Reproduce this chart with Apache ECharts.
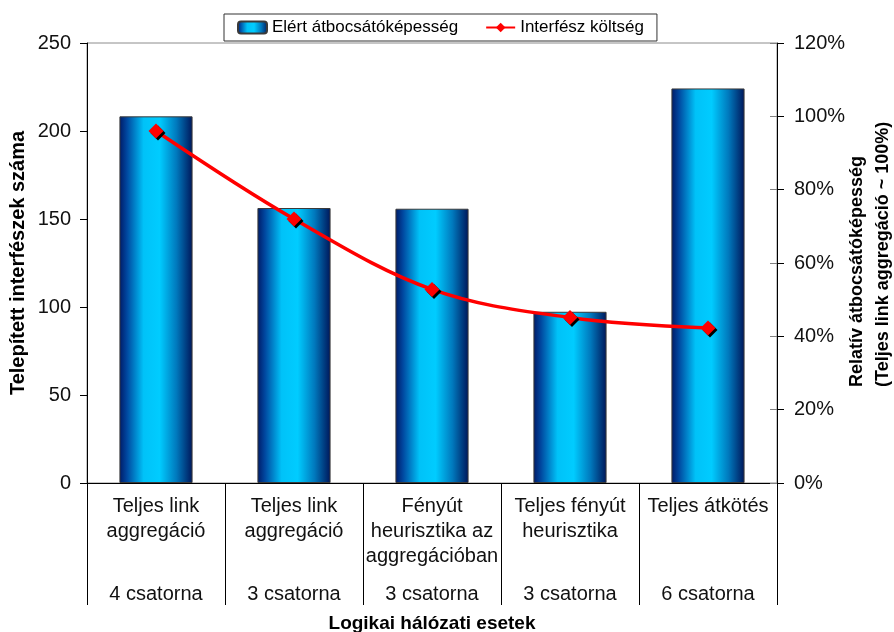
<!DOCTYPE html>
<html>
<head>
<meta charset="utf-8">
<script src="https://cdn.jsdelivr.net/npm/echarts@6/dist/echarts.min.js"></script>
<style>
  html, body { margin: 0; padding: 0; background: #ffffff; }
  #chart { width: 894px; height: 632px; }
</style>
</head>
<body>
<div id="chart"></div>
<script>
// Logical network cases (two-level category labels)
const caseNames = [
  'Teljes link\naggregáció',
  'Teljes link\naggregáció',
  'Fényút\nheurisztika az\naggregációban',
  'Teljes fényút\nheurisztika',
  'Teljes átkötés'
];
const channelLabels = ['4 csatorna', '3 csatorna', '3 csatorna', '3 csatorna', '6 csatorna'];

// Relative throughput (right axis, %)
const throughputPct = [100, 75, 74.8, 46.7, 107.6];
// Number of installed interfaces (left axis)
const interfaceCost = [200, 150, 110, 94, 88];

// Axis ticks
const countTicks = [0, 50, 100, 150, 200, 250];
const pctTicks = [0, 20, 40, 60, 80, 100, 120];

// Right axis title, one entry per line
const rightTitleLines = ['Relatív átbocsátóképesség', '(Teljes link aggregáció ~ 100%)'];

const FONT = "'Liberation Sans', Arial, Helvetica, sans-serif";

const barGradient = new echarts.graphic.LinearGradient(0, 0, 1, 0, [
  { offset: 0.00, color: '#001a66' },
  { offset: 0.10, color: '#00469e' },
  { offset: 0.33, color: '#00c2f8' },
  { offset: 0.55, color: '#00ccff' },
  { offset: 0.78, color: '#0079bd' },
  { offset: 1.00, color: '#00165a' }
]);

const chart = echarts.init(document.getElementById('chart'), null, { renderer: 'canvas' });

const categoryIdx = caseNames.map((_, i) => String(i));

chart.setOption({
  animation: false,
  backgroundColor: '#ffffff',
  textStyle: { fontFamily: FONT, color: '#000' },
  grid: {
    left: 87, right: 117, top: 43, bottom: 149,
    show: true, borderColor: '#8c8c8c', borderWidth: 1,
    backgroundColor: 'transparent',
    outerBoundsMode: 'none',
    containLabel: false
  },
  legend: {
    left: 224, top: 14,
    selectedMode: false,
    data: ['Elért átbocsátóképesség', 'Interfész költség'],
    itemWidth: 29, itemHeight: 12, itemGap: 27,
    padding: [5, 13, 5, 13],
    borderColor: '#333', borderWidth: 1,
    backgroundColor: '#fff',
    textStyle: { fontFamily: FONT, fontSize: 17, color: '#000' }
  },
  graphic: rightTitleLines.map((line, i) => ({
    type: 'text',
    x: 857 + i * 26,
    y: 387,
    rotation: Math.PI / 2,
    silent: true,
    style: {
      text: line,
      fontFamily: FONT, fontSize: 18, fontWeight: 'bold',
      fill: '#000',
      align: 'left',
      verticalAlign: 'middle'
    }
  })),
  xAxis: [
    {
      type: 'category',
      position: 'bottom',
      data: categoryIdx,
      boundaryGap: true,
      axisLine: { lineStyle: { color: '#000', width: 1 } },
      axisTick: { show: true, length: 122, lineStyle: { color: '#000', width: 1 } },
      axisLabel: {
        interval: 0, margin: 11,
        fontFamily: FONT, fontSize: 20, lineHeight: 25, color: '#111',
        formatter: (v, i) => caseNames[i]
      },
      splitLine: { show: false }
    },
    {
      type: 'category',
      position: 'bottom',
      data: categoryIdx,
      boundaryGap: true,
      axisLine: { show: false },
      axisTick: { show: false },
      axisLabel: {
        interval: 0, margin: 99,
        fontFamily: FONT, fontSize: 20, lineHeight: 25, color: '#111',
        formatter: (v, i) => channelLabels[i]
      },
      splitLine: { show: false },
      name: 'Logikai hálózati esetek',
      nameLocation: 'middle',
      nameGap: 131,
      nameMoveOverlap: false,
      nameTextStyle: { fontFamily: FONT, fontSize: 19, fontWeight: 'bold', color: '#000' }
    }
  ],
  yAxis: [
    {
      type: 'value',
      position: 'left',
      min: countTicks[0], max: countTicks[countTicks.length - 1],
      interval: countTicks[1] - countTicks[0],
      axisLine: { show: true, lineStyle: { color: '#000', width: 1 } },
      axisTick: { show: true, length: 7, lineStyle: { color: '#000' } },
      axisLabel: { margin: 16, fontFamily: FONT, fontSize: 20, color: '#111' },
      splitLine: { show: false },
      name: 'Telepített interfészek száma',
      nameLocation: 'middle',
      nameRotate: 90,
      nameGap: 59,
      nameMoveOverlap: false,
      nameTextStyle: { fontFamily: FONT, fontSize: 20, fontWeight: 'bold', color: '#000' }
    },
    {
      type: 'value',
      position: 'right',
      min: pctTicks[0], max: pctTicks[pctTicks.length - 1],
      interval: pctTicks[1] - pctTicks[0],
      axisLine: { show: true, lineStyle: { color: '#000', width: 1 } },
      axisTick: { show: true, length: 7, lineStyle: { color: '#000' } },
      axisLabel: { margin: 17, fontFamily: FONT, fontSize: 20, color: '#111', formatter: '{value}%' },
      splitLine: { show: false }
    },
    {
      // inner half of the cross tick marks on the right axis
      type: 'value',
      position: 'right',
      min: pctTicks[0], max: pctTicks[pctTicks.length - 1],
      interval: pctTicks[1] - pctTicks[0],
      axisLine: { show: false },
      axisTick: { show: true, inside: true, length: 7, lineStyle: { color: '#808080' } },
      axisLabel: { show: false },
      splitLine: { show: false }
    }
  ],
  series: [
    {
      name: 'Elért átbocsátóképesség',
      type: 'bar',
      xAxisIndex: 0,
      yAxisIndex: 1,
      barWidth: '53%',
      data: throughputPct,
      itemStyle: { color: barGradient, borderColor: '#3a3a3a', borderWidth: 1 },
      z: 2
    },
    {
      name: 'Interfész költség',
      type: 'line',
      xAxisIndex: 0,
      yAxisIndex: 0,
      data: interfaceCost,
      smooth: 0.35,
      symbol: 'diamond',
      symbolSize: 15,
      showAllSymbol: true,
      lineStyle: { color: '#ff0000', width: 3.5 },
      itemStyle: {
        color: '#ff0000',
        shadowColor: '#000000', shadowBlur: 0, shadowOffsetX: 2, shadowOffsetY: 2
      },
      z: 4
    }
  ]
});
</script>
</body>
</html>
